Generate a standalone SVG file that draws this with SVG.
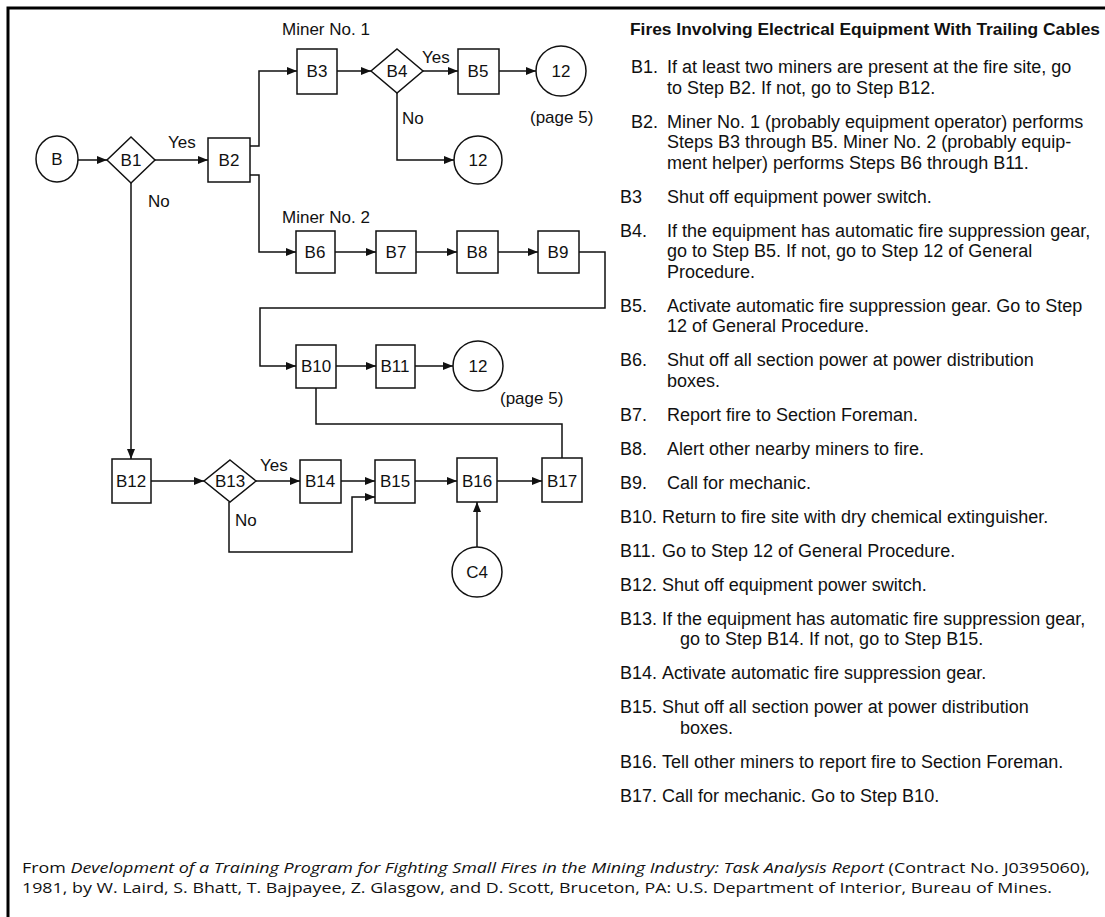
<svg xmlns="http://www.w3.org/2000/svg" width="1105" height="917" viewBox="0 0 1105 917">
  <defs>
    <marker id="arrow" viewBox="0 0 10 8" refX="10" refY="4" markerWidth="10" markerHeight="8" markerUnits="userSpaceOnUse" orient="auto">
      <path d="M0,0 L10,4 L0,8 Z" fill="#111"/>
    </marker>
    <style>
      .shape { fill: #fff; stroke: #111; stroke-width: 1.5; }
      .edge { fill: none; stroke: #111; stroke-width: 1.5; }
      .arr { marker-end: url(#arrow); }
      .lbl { font-family: "Liberation Sans", Arial, sans-serif; font-size: 17px; fill: #111; }
      .ctr { text-anchor: middle; }
      .title { font-family: "Liberation Sans", Arial, sans-serif; font-size: 17px; font-weight: bold; fill: #111; }
      .step { font-family: "Liberation Sans", Arial, sans-serif; font-size: 18px; fill: #111; }
      .foot { font-family: "Open Sans", "Liberation Sans", sans-serif; font-size: 15px; fill: #111; }
      .frame { fill: none; stroke: #000; stroke-width: 3; }
    </style>
  </defs>

  <!-- page frame -->
  <path class="frame" d="M8,917 L8,8 L1105,8"/>

  <!-- connectors -->
  <g id="connectors">
    <line class="edge arr" x1="78" y1="160" x2="107" y2="160"/>
    <line class="edge arr" x1="155" y1="160" x2="208" y2="160"/>
    <line class="edge arr" x1="131" y1="183" x2="131" y2="459"/>
    <polyline class="edge arr" points="250,146 259,146 259,71 297,71"/>
    <polyline class="edge arr" points="250,175 259,175 259,252 296,252"/>
    <line class="edge arr" x1="337" y1="71" x2="371" y2="71"/>
    <line class="edge arr" x1="423" y1="71" x2="458" y2="71"/>
    <line class="edge arr" x1="499" y1="71" x2="536" y2="71"/>
    <polyline class="edge arr" points="397,93 397,160 454,160"/>
    <line class="edge arr" x1="335" y1="252" x2="376" y2="252"/>
    <line class="edge arr" x1="416" y1="252" x2="457" y2="252"/>
    <line class="edge arr" x1="498" y1="252" x2="538" y2="252"/>
    <polyline class="edge arr" points="579,252 605,252 605,308 260,308 260,366 296,366"/>
    <line class="edge arr" x1="336" y1="366" x2="376" y2="366"/>
    <line class="edge arr" x1="415" y1="366" x2="453" y2="366"/>
    <polyline class="edge" points="562,458 562,424 316,424 316,388"/>
    <line class="edge arr" x1="151" y1="481" x2="204" y2="481"/>
    <line class="edge arr" x1="256" y1="481" x2="300" y2="481"/>
    <line class="edge arr" x1="341" y1="481" x2="375" y2="481"/>
    <polyline class="edge arr" points="229,502 229,552 352,552 352,497 375,497"/>
    <line class="edge arr" x1="415" y1="481" x2="457" y2="481"/>
    <line class="edge arr" x1="497" y1="481" x2="542" y2="481"/>
    <line class="edge arr" x1="477" y1="547" x2="477" y2="502"/>
  </g>

  <!-- branch labels -->
  <g id="edge-labels" class="lbl">
    <text x="168" y="148">Yes</text>
    <text x="148" y="207">No</text>
    <text x="282" y="35">Miner No. 1</text>
    <text x="422" y="63">Yes</text>
    <text x="402" y="124">No</text>
    <text x="530" y="123">(page 5)</text>
    <text x="282" y="223">Miner No. 2</text>
    <text x="500" y="404">(page 5)</text>
    <text x="260" y="471">Yes</text>
    <text x="235" y="526">No</text>
  </g>

  <!-- nodes -->
  <g id="node-B"><ellipse class="shape" cx="57" cy="159" rx="21" ry="23"/><text class="lbl ctr" x="57" y="165">B</text></g>
  <g id="node-B1"><polygon class="shape" points="131,137 155,160 131,183 107,160"/><text class="lbl ctr" x="131" y="166">B1</text></g>
  <g id="node-B2"><rect class="shape" x="208" y="138" width="42" height="44"/><text class="lbl ctr" x="229" y="166">B2</text></g>
  <g id="node-B3"><rect class="shape" x="297" y="49" width="40" height="45"/><text class="lbl ctr" x="317" y="77">B3</text></g>
  <g id="node-B4"><polygon class="shape" points="397,49 423,71 397,93 371,71"/><text class="lbl ctr" x="397" y="77">B4</text></g>
  <g id="node-B5"><rect class="shape" x="458" y="49" width="41" height="45"/><text class="lbl ctr" x="478" y="77">B5</text></g>
  <g id="node-12a"><circle class="shape" cx="561" cy="71" r="25"/><text class="lbl ctr" x="561" y="77">12</text></g>
  <g id="node-12b"><circle class="shape" cx="478" cy="160" r="24"/><text class="lbl ctr" x="478" y="166">12</text></g>
  <g id="node-B6"><rect class="shape" x="296" y="231" width="39" height="42"/><text class="lbl ctr" x="315" y="258">B6</text></g>
  <g id="node-B7"><rect class="shape" x="376" y="231" width="40" height="42"/><text class="lbl ctr" x="396" y="258">B7</text></g>
  <g id="node-B8"><rect class="shape" x="457" y="231" width="41" height="42"/><text class="lbl ctr" x="477" y="258">B8</text></g>
  <g id="node-B9"><rect class="shape" x="538" y="231" width="41" height="42"/><text class="lbl ctr" x="558" y="258">B9</text></g>
  <g id="node-B10"><rect class="shape" x="296" y="345" width="40" height="43"/><text class="lbl ctr" x="316" y="372">B10</text></g>
  <g id="node-B11"><rect class="shape" x="376" y="345" width="39" height="43"/><text class="lbl ctr" x="395" y="372">B11</text></g>
  <g id="node-12c"><circle class="shape" cx="478" cy="366" r="25"/><text class="lbl ctr" x="478" y="372">12</text></g>
  <g id="node-B12"><rect class="shape" x="112" y="459" width="39" height="44"/><text class="lbl ctr" x="131" y="487">B12</text></g>
  <g id="node-B13"><polygon class="shape" points="230,460 256,481 230,502 204,481"/><text class="lbl ctr" x="230" y="487">B13</text></g>
  <g id="node-B14"><rect class="shape" x="300" y="460" width="41" height="43"/><text class="lbl ctr" x="320" y="487">B14</text></g>
  <g id="node-B15"><rect class="shape" x="375" y="460" width="40" height="43"/><text class="lbl ctr" x="395" y="487">B15</text></g>
  <g id="node-B16"><rect class="shape" x="457" y="458" width="40" height="44"/><text class="lbl ctr" x="477" y="487">B16</text></g>
  <g id="node-B17"><rect class="shape" x="542" y="458" width="40" height="44"/><text class="lbl ctr" x="562" y="487">B17</text></g>
  <g id="node-C4"><circle class="shape" cx="477" cy="572" r="25"/><text class="lbl ctr" x="477" y="578">C4</text></g>

  <!-- step descriptions -->
  <g id="steps">
    <text class="title" x="630" y="35" textLength="470" lengthAdjust="spacingAndGlyphs">Fires Involving Electrical Equipment With Trailing Cables</text>
    <g class="step">
      <text x="631" y="73">B1.</text>
      <text x="667" y="73">If at least two miners are present at the fire site, go</text>
      <text x="667" y="93.5">to Step B2. If not, go to Step B12.</text>

      <text x="631" y="127.5">B2.</text>
      <text x="667" y="127.5">Miner No. 1 (probably equipment operator) performs</text>
      <text x="667" y="148">Steps B3 through B5. Miner No. 2 (probably equip-</text>
      <text x="667" y="168.5">ment helper) performs Steps B6 through B11.</text>

      <text x="620" y="202.5">B3</text>
      <text x="667" y="202.5">Shut off equipment power switch.</text>

      <text x="620" y="236.5">B4.</text>
      <text x="667" y="236.5">If the equipment has automatic fire suppression gear,</text>
      <text x="667" y="257">go to Step B5. If not, go to Step 12 of General</text>
      <text x="667" y="277.5">Procedure.</text>

      <text x="620" y="311.5">B5.</text>
      <text x="667" y="311.5">Activate automatic fire suppression gear. Go to Step</text>
      <text x="667" y="332">12 of General Procedure.</text>

      <text x="620" y="366">B6.</text>
      <text x="667" y="366">Shut off all section power at power distribution</text>
      <text x="667" y="386.5">boxes.</text>

      <text x="620" y="420.5">B7.</text>
      <text x="667" y="420.5">Report fire to Section Foreman.</text>

      <text x="620" y="454.5">B8.</text>
      <text x="667" y="454.5">Alert other nearby miners to fire.</text>

      <text x="620" y="488.5">B9.</text>
      <text x="667" y="488.5">Call for mechanic.</text>

      <text x="620" y="522.5">B10.</text>
      <text x="662" y="522.5">Return to fire site with dry chemical extinguisher.</text>

      <text x="620" y="556.5">B11.</text>
      <text x="662" y="556.5">Go to Step 12 of General Procedure.</text>

      <text x="620" y="590.5">B12.</text>
      <text x="662" y="590.5">Shut off equipment power switch.</text>

      <text x="620" y="624.5">B13.</text>
      <text x="662" y="624.5">If the equipment has automatic fire suppression gear,</text>
      <text x="680" y="645">go to Step B14. If not, go to Step B15.</text>

      <text x="620" y="679">B14.</text>
      <text x="662" y="679">Activate automatic fire suppression gear.</text>

      <text x="620" y="713">B15.</text>
      <text x="662" y="713">Shut off all section power at power distribution</text>
      <text x="680" y="733.5">boxes.</text>

      <text x="620" y="767.5">B16.</text>
      <text x="662" y="767.5">Tell other miners to report fire to Section Foreman.</text>

      <text x="620" y="801.5">B17.</text>
      <text x="662" y="801.5">Call for mechanic. Go to Step B10.</text>
    </g>
  </g>

  <!-- source note -->
  <g id="source" class="foot">
    <text x="22" y="873" textLength="1068" lengthAdjust="spacingAndGlyphs">From <tspan font-style="italic">Development of a Training Program for Fighting Small Fires in the Mining Industry: Task Analysis Report</tspan> (Contract No. J0395060),</text>
    <text x="22" y="893" textLength="1030" lengthAdjust="spacingAndGlyphs">1981, by W. Laird, S. Bhatt, T. Bajpayee, Z. Glasgow, and D. Scott, Bruceton, PA: U.S. Department of Interior, Bureau of Mines.</text>
  </g>
</svg>
